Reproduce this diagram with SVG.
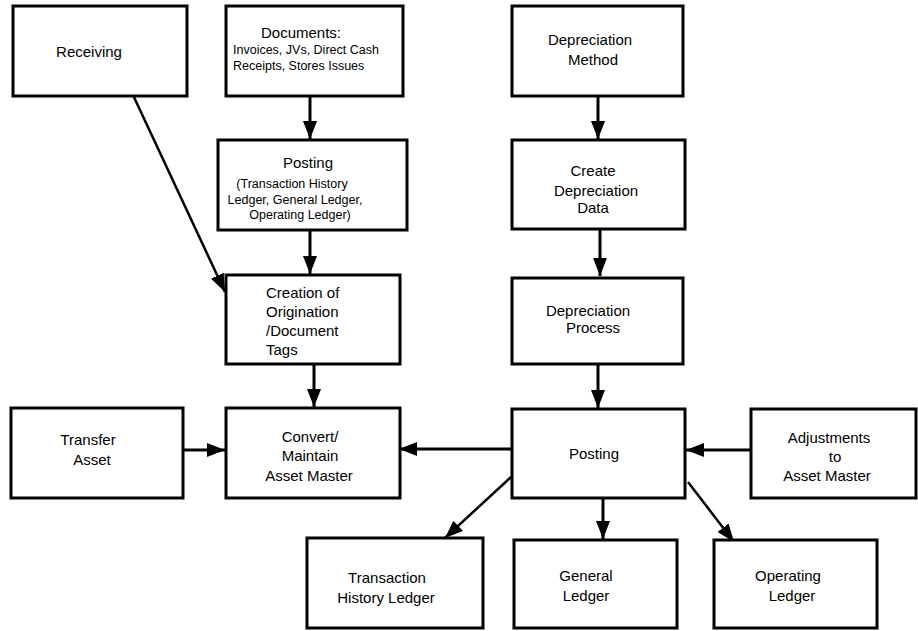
<svg xmlns="http://www.w3.org/2000/svg" width="918" height="631" viewBox="0 0 918 631">
<style>
.box{fill:#fff;stroke:#000;stroke-width:3}
.t{font-family:"Liberation Sans",Arial,sans-serif;font-size:15px;fill:#000;text-anchor:middle}
.s{font-size:12.5px}
.l{text-anchor:start}
.c{stroke:#000;stroke-width:3;fill:none;marker-end:url(#ah)}
.d{stroke-width:2.5}
</style>
<defs>
<marker id="ah" markerUnits="userSpaceOnUse" markerWidth="20" markerHeight="14" refX="18" refY="7" orient="auto">
<path d="M0,0 L18,7 L0,14 z" fill="#000"/>
</marker>
</defs>
<rect width="918" height="631" fill="#fff"/>
<g id="connectors">
<line class="c" x1="310" y1="96" x2="310" y2="139"/>
<line class="c d" x1="133" y1="95" x2="225" y2="292"/>
<line class="c" x1="310" y1="230" x2="310" y2="274"/>
<line class="c" x1="314" y1="364" x2="314" y2="407"/>
<line class="c" x1="598" y1="96" x2="598" y2="139"/>
<line class="c" x1="600" y1="229" x2="600" y2="276"/>
<line class="c" x1="598" y1="364" x2="598" y2="408"/>
<line class="c" x1="183" y1="450" x2="225" y2="450"/>
<line class="c" x1="512" y1="449" x2="399" y2="449"/>
<line class="c" x1="751" y1="450" x2="686" y2="450"/>
<line class="c" x1="603" y1="498" x2="603" y2="539"/>
<line class="c d" x1="511" y1="477" x2="445" y2="538"/>
<line class="c d" x1="688" y1="482" x2="734" y2="542"/>
</g>
<g id="receiving"><rect class="box" x="13" y="6" width="174" height="90"/><text class="t" x="89" y="57">Receiving</text></g>
<g id="documents"><rect class="box" x="226" y="6" width="177" height="90"/><text class="t" x="301" y="38">Documents:</text><text class="t s l" x="233" y="54">Invoices, JVs, Direct Cash</text><text class="t s l" x="233" y="70">Receipts, Stores Issues</text></g>
<g id="posting1"><rect class="box" x="218" y="140" width="189" height="90"/><text class="t" x="308" y="168">Posting</text><text class="t s" x="292" y="188">(Transaction History</text><text class="t s" x="295" y="204">Ledger, General Ledger,</text><text class="t s" x="300" y="219">Operating Ledger)</text></g>
<g id="depmethod"><rect class="box" x="512" y="6" width="171" height="90"/><text class="t" x="590" y="45">Depreciation</text><text class="t" x="593" y="65">Method</text></g>
<g id="createdep"><rect class="box" x="512" y="140" width="173" height="89"/><text class="t" x="593" y="176">Create</text><text class="t" x="596" y="196">Depreciation</text><text class="t" x="593" y="213">Data</text></g>
<g id="depprocess"><rect class="box" x="512" y="278" width="171" height="86"/><text class="t" x="588" y="316">Depreciation</text><text class="t" x="593" y="333">Process</text></g>
<g id="creation"><rect class="box" x="226" y="275" width="174" height="89"/><text class="t l" x="266" y="298">Creation of</text><text class="t l" x="266" y="317">Origination</text><text class="t l" x="266" y="336">/Document</text><text class="t l" x="266" y="355">Tags</text></g>
<g id="transfer"><rect class="box" x="11" y="408" width="172" height="90"/><text class="t" x="88" y="445">Transfer</text><text class="t" x="92" y="465">Asset</text></g>
<g id="convert"><rect class="box" x="226" y="408" width="174" height="90"/><text class="t" x="310" y="442">Convert/</text><text class="t" x="310" y="461">Maintain</text><text class="t" x="309" y="481">Asset Master</text></g>
<g id="posting2"><rect class="box" x="512" y="409" width="173" height="89"/><text class="t" x="594" y="459">Posting</text></g>
<g id="adjustments"><rect class="box" x="751" y="409" width="165" height="89"/><text class="t" x="829" y="443">Adjustments</text><text class="t" x="835" y="462">to</text><text class="t" x="827" y="481">Asset Master</text></g>
<g id="transaction"><rect class="box" x="307" y="538" width="176" height="90"/><text class="t" x="387" y="583">Transaction</text><text class="t" x="386" y="603">History Ledger</text></g>
<g id="general"><rect class="box" x="514" y="540" width="163" height="88"/><text class="t" x="586" y="581">General</text><text class="t" x="586" y="601">Ledger</text></g>
<g id="operating"><rect class="box" x="714" y="540" width="163" height="88"/><text class="t" x="788" y="581">Operating</text><text class="t" x="792" y="601">Ledger</text></g>
</svg>
